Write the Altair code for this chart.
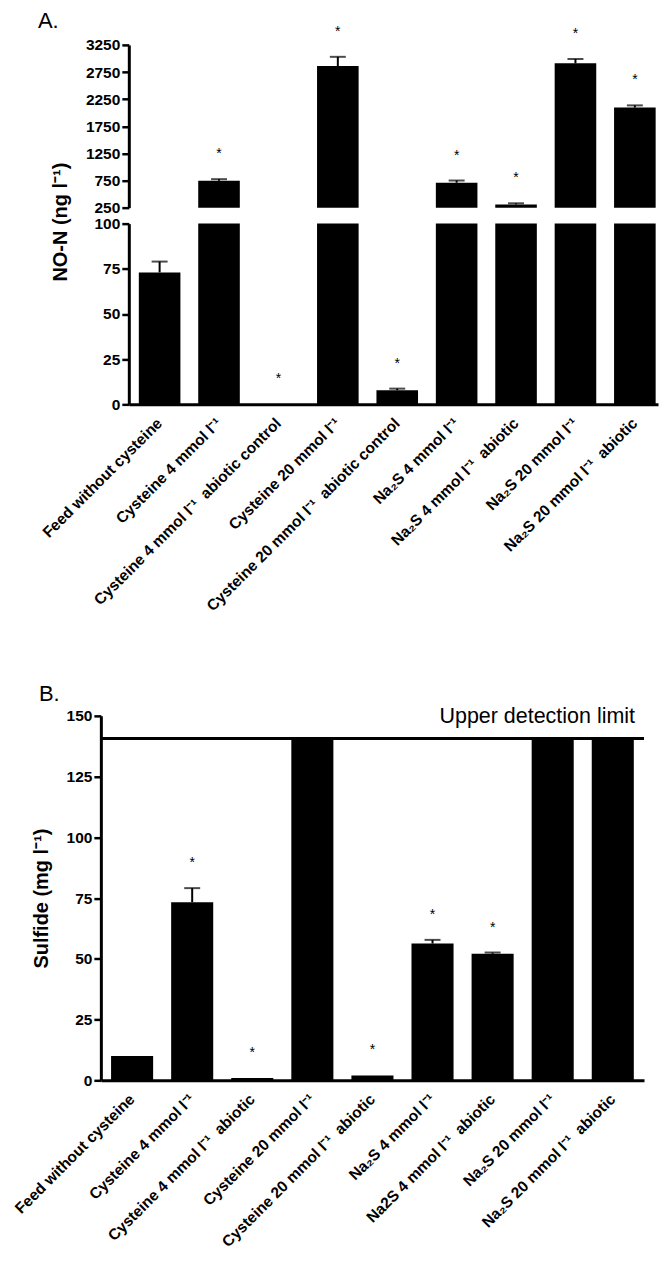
import altair as alt
import pandas as pd

# ---------------- data ----------------
NB = "\u00a0"
cats_a = [
    "Feed without cysteine",
    "Cysteine 4 mmol l⁻¹",
    "Cysteine 4 mmol l⁻¹" + NB + " abiotic control",
    "Cysteine 20 mmol l⁻¹",
    "Cysteine 20 mmol l⁻¹" + NB + " abiotic control",
    "Na₂S 4 mmol l⁻¹",
    "Na₂S 4 mmol l⁻¹" + NB + " abiotic",
    "Na₂S 20 mmol l⁻¹",
    "Na₂S 20 mmol l⁻¹" + NB + " abiotic",
]
no_mean = [73, 745, 0, 2860, 7.8, 710, 310, 2910, 2095]
no_err = [6, 30, 0, 170, 0.9, 40, 20, 80, 40]
no_star = [False, True, True, True, True, True, True, True, True]

cats_b = [
    "Feed without cysteine",
    "Cysteine 4 mmol l⁻¹",
    "Cysteine 4 mmol l⁻¹" + NB + " abiotic",
    "Cysteine 20 mmol l⁻¹",
    "Cysteine 20 mmol l⁻¹" + NB + " abiotic",
    "Na₂S 4 mmol l⁻¹",
    "Na2S 4 mmol l⁻¹" + NB + " abiotic",
    "Na₂S 20 mmol l⁻¹",
    "Na₂S 20 mmol l⁻¹" + NB + " abiotic",
]
sul_mean = [10, 73.3, 0.9, 140.7, 2.0, 56.3, 52.1, 140.7, 140.7]
sul_err = [0, 5.8, 0, 0, 0, 1.5, 0.5, 0, 0]
sul_star = [False, True, True, False, True, True, True, False, False]

detection_limit = [140.7]
up_ticks = [250, 750, 1250, 1750, 2250, 2750, 3250]
low_ticks = [0, 25, 50, 75, 100]
b_ticks = [0, 25, 50, 75, 100, 125, 150]

# ---------------- style / layout ----------------
FONT = "Liberation Sans"
WA, HA = 558, 360          # panel A plot box (axis sits 28 px inside)
WB, HB = 544, 365
A_SHIFT = 28

dfa = pd.DataFrame({"cat": cats_a, "val": no_mean, "err": no_err, "star": no_star})
dfb = pd.DataFrame({"cat": cats_b, "val": sul_mean, "err": sul_err, "star": sul_star})

xs_a = alt.Scale(range=[A_SHIFT, WA], paddingInner=0.3, paddingOuter=0.104, align=0.81)
xs_b = alt.Scale(paddingInner=0.3, paddingOuter=0.17)
ys_up = alt.Scale(domain=[250, 3250], range=[163, 0], nice=False, zero=False)
ys_low = alt.Scale(domain=[0, 100], range=[HA, 179], nice=False)
ys_b = alt.Scale(domain=[0, 150], nice=False)


def y_axis(vals, title="", **kw):
    return alt.Axis(
        values=vals, grid=False, title=title, format="d", orient="left",
        domainColor="black", domainWidth=3,
        tickColor="black", tickWidth=2.5, tickSize=7,
        labelFont=FONT, labelFontSize=15.5, labelFontWeight="bold",
        labelColor="black", labelPadding=2,
        titleFont=FONT, titleFontSize=20, titleFontWeight="bold",
        titleColor="black", **kw)


X_AXIS = alt.Axis(
    title=None, labelAngle=-45, labelAlign="right", labelBaseline="middle",
    labelFont=FONT, labelFontSize=15.5, labelFontWeight="bold",
    labelColor="black", labelPadding=16, labelLimit=600, ticks=False,
    domainColor="black", domainWidth=3)


def bar_group(base, ycol, yscale, yax, base_value, err_filter, star_filter):
    bars = base.mark_bar(color="black").encode(
        y=alt.Y(f"{ycol}:Q", scale=yscale, axis=yax), y2=alt.datum(base_value))
    eb = base.transform_filter(err_filter)
    err = eb.mark_rule(color="black", strokeWidth=2).encode(
        y=alt.Y("val:Q", scale=yscale, axis=yax), y2="top:Q")
    cap = eb.mark_tick(color="black", thickness=2, size=16).encode(
        y=alt.Y("top:Q", scale=yscale, axis=yax))
    stars = base.transform_filter(star_filter).mark_text(
        text="*", font=FONT, fontSize=14, color="black", dy=-25,
        baseline="middle").encode(y=alt.Y("top:Q", scale=yscale, axis=yax))
    return alt.layer(bars, err, cap, stars)


def label(txt, x, y, size=22):
    return alt.Chart(pd.DataFrame({"t": [txt]})).mark_text(
        font=FONT, fontSize=size, align="left", baseline="alphabetic",
        color="black").encode(text="t:N", x=alt.value(x), y=alt.value(y))


def spacer(x, y):
    return alt.Chart(pd.DataFrame({"t": ["."]})).mark_text(
        fontSize=8, align="left", baseline="top", color="white").encode(
        text="t:N", x=alt.value(x), y=alt.value(y))


# ---------------- panel A (broken y axis) ----------------
base_a = alt.Chart(dfa).transform_calculate(
    top="datum.val + datum.err", vlow="min(datum.val, 100)"
).encode(x=alt.X("cat:N", sort=cats_a, scale=xs_a, axis=X_AXIS))

upper = bar_group(
    base_a.transform_filter("datum.val > 250"), "val", ys_up,
    y_axis(up_ticks, offset=-A_SHIFT), 250,
    "datum.err > 0", "datum.star")

lower = bar_group(
    base_a, "vlow", ys_low,
    y_axis(low_ticks, title="NO-N (ng l⁻¹)", offset=-A_SHIFT,
           titleX=-58, titleY=177),
    0, "datum.val < 100 && datum.err > 0", "datum.star && datum.val < 100")

panel_a = alt.layer(
    upper, lower, label("A.", -63, -17)
).resolve_scale(y="independent").properties(width=WA, height=HA)

# ---------------- panel B ----------------
base_b = alt.Chart(dfb).transform_calculate(top="datum.val + datum.err").encode(
    x=alt.X("cat:N", sort=cats_b, scale=xs_b, axis=X_AXIS))

bars_b = bar_group(
    base_b, "val", ys_b,
    y_axis(b_ticks, title="Sulfide (mg l⁻¹)", titleX=-49),
    0, "datum.err > 0", "datum.star")

dl = pd.DataFrame({"limit": detection_limit})
limit_rule = alt.Chart(dl).mark_rule(color="black", strokeWidth=3).encode(
    y=alt.Y("limit:Q", scale=ys_b))
limit_text = alt.Chart(dl).mark_text(
    text="Upper detection limit", font=FONT, fontSize=21.5, align="right",
    baseline="alphabetic", dy=-15, color="black").encode(
    x=alt.value(535), y=alt.Y("limit:Q", scale=ys_b))

panel_b = alt.layer(
    bars_b, limit_rule, limit_text,
    label("B.", -62, -15),
    spacer(-92, -15),
).properties(width=WB, height=HB)

chart = alt.vconcat(
    panel_a, panel_b, spacing=67,
    padding={"left": 0, "top": 0, "right": 0, "bottom": 0},
).configure_view(stroke="transparent")

chart.save("out.html", embed_options={"renderer": "svg", "actions": False})
